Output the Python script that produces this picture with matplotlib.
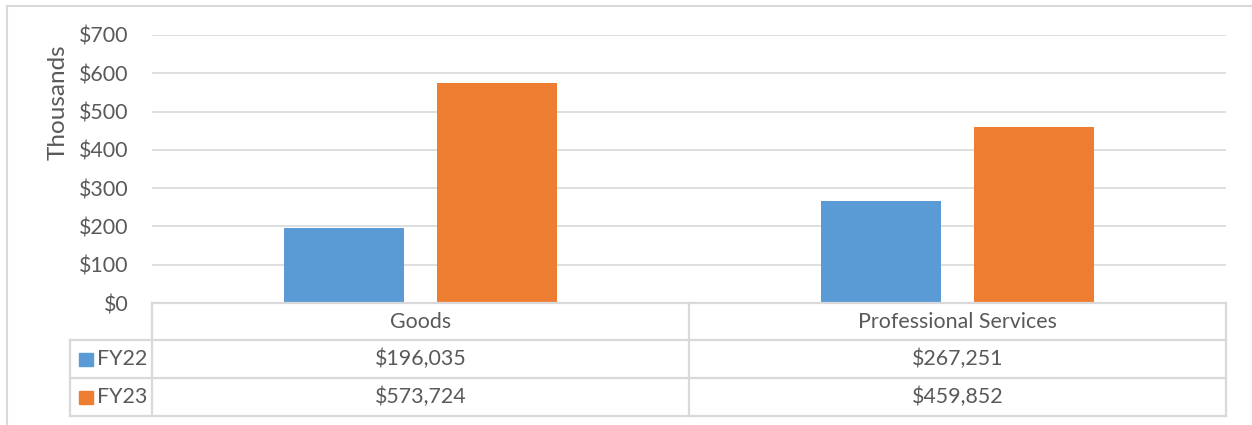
import matplotlib
matplotlib.use("Agg")
import matplotlib.pyplot as plt
from matplotlib.lines import Line2D
from matplotlib.patches import Rectangle
from matplotlib.transforms import blended_transform_factory

# Data
categories = ["Goods", "Professional Services"]
series_names = ["FY22", "FY23"]
fy22 = [196035, 267251]
fy23 = [573724, 459852]
y_ticks = [0, 100, 200, 300, 400, 500, 600, 700]

colors = ["#5B9BD5", "#ED7D31"]
grid_color = "#D9D9D9"
text_color = "#595959"
font = ["Lato", "DejaVu Sans"]
fs = 15.4

W, H = 1252, 425
fig = plt.figure(figsize=(W / 100, H / 100), dpi=100)


def fx(px):
    return px / W


def fy(py):
    return 1 - py / H


# Plot area
ax_left, ax_right, ax_top, ax_bottom = 152, 1226, 35, 303
ax = fig.add_axes([fx(ax_left), fy(ax_bottom), fx(ax_right - ax_left), (ax_bottom - ax_top) / H])

width = 0.2235
offset = 0.1425
xs = range(len(categories))
for i, (name, vals) in enumerate(zip(series_names, [fy22, fy23])):
    pos = [x + (-offset if i == 0 else offset) for x in xs]
    ax.bar(pos, [v / 1000 for v in vals], width=width, color=colors[i], zorder=3)

ax.set_xlim(-0.5, len(categories) - 0.5)
ax.set_ylim(0, 700)
ax.set_yticks(y_ticks)
ax.set_yticklabels([f"${t}" for t in y_ticks], fontfamily=font, fontsize=fs, color=text_color)
ax.tick_params(axis="y", length=0, pad=17)
ax.set_xticks([])
ax.grid(axis="y", color=grid_color, linewidth=1.2, zorder=0)
for s in ax.spines.values():
    s.set_visible(False)

# Axis title
fig.text(fx(58), fy(102), "Thousands", rotation=90, ha="center", va="center",
         fontfamily=font, fontsize=17.5, color=text_color)


def hline(x0, x1, y, lw=1.6):
    fig.add_artist(Line2D([fx(x0), fx(x1)], [fy(y), fy(y)], color=grid_color, lw=lw))


def vline(x, y0, y1, lw=1.6):
    fig.add_artist(Line2D([fx(x), fx(x)], [fy(y0), fy(y1)], color=grid_color, lw=lw))


# Outer chart border
hline(7, W + 5, 6, lw=1.5)
vline(7, 6, H + 5, lw=1.5)

# Data table grid
row_y = [303, 340, 378, 416]
leg_left = 70
mid_x = (ax_left + ax_right) / 2
hline(ax_left, ax_right, row_y[0])
for y in row_y[1:]:
    hline(leg_left, ax_right, y)
vline(ax_left, row_y[0], row_y[-1])
vline(mid_x, row_y[0], row_y[-1])
vline(ax_right, row_y[0], row_y[-1])
vline(leg_left, row_y[1], row_y[-1])

# Table text
trans = blended_transform_factory(ax.transData, fig.transFigure)
for i, cat in enumerate(categories):
    ax.text(i, fy((row_y[0] + row_y[1]) / 2), cat, transform=trans, ha="center", va="center",
            fontfamily=font, fontsize=fs, color=text_color, clip_on=False)
for r, (name, vals) in enumerate(zip(series_names, [fy22, fy23])):
    yc = fy((row_y[r + 1] + row_y[r + 2]) / 2)
    for i, v in enumerate(vals):
        ax.text(i, yc, f"${v:,}", transform=trans, ha="center", va="center",
                fontfamily=font, fontsize=fs, color=text_color, clip_on=False)
    ypx = (row_y[r + 1] + row_y[r + 2]) / 2
    fig.add_artist(Rectangle((fx(79), fy(ypx + 6.5)), fx(13.5), 13 / H, color=colors[r]))
    fig.text(fx(97), yc, name, ha="left", va="center", fontfamily=font, fontsize=fs, color=text_color)

fig.savefig("out.png", dpi=100)
